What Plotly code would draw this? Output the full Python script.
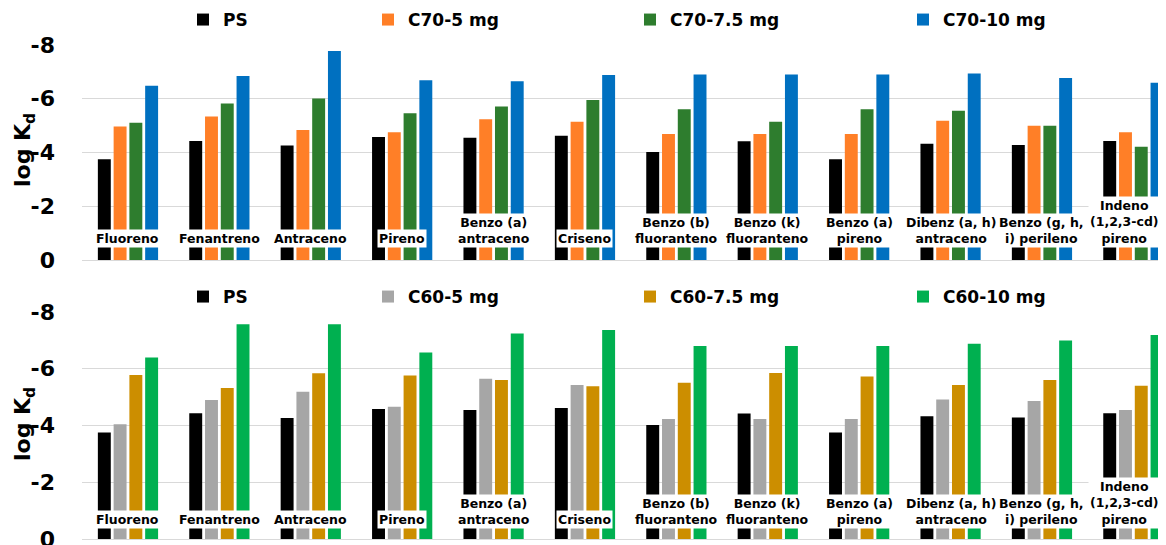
"""log Kd of PAHs on PS and PS + fullerene (C70 / C60) sorbents."""
import plotly.graph_objects as go

# the page keeps an 8px body margin, so the figure is drawn 8px in from the
# window corner; positions below are measured on the window and shifted
PAGE_W, PAGE_H, OFF = 1166, 545, 8
W, H = PAGE_W - OFF, PAGE_H - OFF


def px_x(p):
    return (p - OFF) / W


def px_y(p):
    return 1 - (p - OFF) / H


categories = [
    "Fluoreno", "Fenantreno", "Antraceno", "Pireno", "Benzo (a) antraceno",
    "Criseno", "Benzo (b) fluoranteno", "Benzo (k) fluoranteno",
    "Benzo (a) pireno", "Dibenz (a, h) antraceno", "Benzo (g, h, i) perileno",
    "Indeno (1,2,3-cd) pireno",
]
category_labels = [
    "Fluoreno", "Fenantreno", "Antraceno", "Pireno", "Benzo (a)<br>antraceno",
    "Criseno", "Benzo (b)<br>fluoranteno", "Benzo (k)<br>fluoranteno",
    "Benzo (a)<br>pireno", "Dibenz (a, h)<br>antraceno", "Benzo (g, h,<br>i) perileno",
    "Indeno<br>(1,2,3-cd)<br>pireno",
]

ps = [-3.75, -4.43, -4.26, -4.58, -4.55, -4.62, -4.02, -4.42, -3.75, -4.33, -4.28, -4.43]

c70_5 = [-4.97, -5.34, -4.84, -4.75, -5.24, -5.14, -4.69, -4.69, -4.69, -5.18, -5.00, -4.75]
c70_75 = [-5.11, -5.82, -6.01, -5.46, -5.71, -5.95, -5.61, -5.14, -5.61, -5.55, -5.00, -4.21]
c70_10 = [-6.48, -6.85, -7.78, -6.69, -6.65, -6.88, -6.90, -6.90, -6.90, -6.94, -6.77, -6.60]

c60_5 = [-4.04, -4.90, -5.19, -4.66, -5.65, -5.43, -4.23, -4.23, -4.23, -4.92, -4.86, -4.55]
c60_75 = [-5.78, -5.32, -5.84, -5.76, -5.60, -5.38, -5.51, -5.85, -5.73, -5.43, -5.60, -5.40]
c60_10 = [-6.40, -7.57, -7.57, -6.57, -7.24, -7.37, -6.80, -6.80, -6.80, -6.88, -7.00, -7.19]

tick_vals = [0, -2, -4, -6, -8]
tick_text = ["0", "-2", "-4", "-6", "-8"]

FONT = "DejaVu Sans"
GRID = "#d9d9d9"

top_series = [
    ("PS", ps, "#000000"),
    ("C70-5 mg", c70_5, "#ff7f27"),
    ("C70-7.5 mg", c70_75, "#2e7d2e"),
    ("C70-10 mg", c70_10, "#0070c0"),
]
bottom_series = [
    ("PS", ps, "#000000"),
    ("C60-5 mg", c60_5, "#a6a6a6"),
    ("C60-7.5 mg", c60_75, "#cc8e00"),
    ("C60-10 mg", c60_10, "#00b050"),
]

# window x of each legend symbol, same in both panels
legend_px = [203, 388, 650, 923]

fig = go.Figure()

legends = {}
n = 1
for series, ax, ly in [(top_series, "", 20), (bottom_series, "2", 297)]:
    for (name, vals, color), lx in zip(series, legend_px):
        key = "legend" if n == 1 else f"legend{n}"
        fig.add_trace(go.Bar(
            x=categories, y=vals, name=name,
            marker=dict(color=color, line=dict(width=0)),
            xaxis="x" + ax, yaxis="y" + ax,
            legend=key,
        ))
        legends[key] = dict(
            x=px_x(lx - 20), xanchor="left",
            y=px_y(ly), yanchor="middle",
            orientation="h", bgcolor="rgba(0,0,0,0)",
            font=dict(family=FONT, size=17, color="#000", weight="bold"),
            itemwidth=30,
        )
        n += 1

# category labels sitting over the bars, on white boxes
# (the last one is nudged left so it stays inside the window)
annotations = []
for ax, shift in [("", 12), ("2", 10)]:
    for i, (cat, lab) in enumerate(zip(categories, category_labels)):
        annotations.append(dict(
            x=cat, y=0, xref="x" + ax, yref="y" + ax,
            text=lab, showarrow=False, xanchor="center",
            yanchor="bottom", yshift=shift,
            xshift=-9 if i == len(categories) - 1 else 0,
            bgcolor="white", borderpad=1, align="center",
            font=dict(family=FONT, size=12.5, color="#000", weight="bold"),
        ))

# y axis titles
for yc in [150, 424]:
    annotations.append(dict(
        x=px_x(24), y=px_y(yc), xref="paper", yref="paper",
        xanchor="center", yanchor="middle",
        text="log K<sub>d</sub>", textangle=-90, showarrow=False,
        font=dict(family=FONT, size=22, color="#000", weight="bold"),
    ))

x_common = dict(
    domain=[px_x(82), 1], range=[-0.503, 11.357], showticklabels=False,
    showgrid=False, zeroline=False, showline=False, ticks="",
    automargin=False,
)
y_common = dict(
    range=[0, -8], tickvals=tick_vals, ticktext=tick_text,
    showgrid=True, gridcolor=GRID, gridwidth=1,
    zeroline=True, zerolinecolor=GRID, zerolinewidth=1,
    showline=False, ticks="", ticklabelstandoff=26, automargin=False,
    ticklabeloverflow="allow",
    tickfont=dict(family=FONT, size=22, color="#000", weight="bold"),
)

fig.update_layout(
    width=W, height=H,
    template="none",
    margin=dict(l=0, r=0, t=0, b=0, autoexpand=False),
    paper_bgcolor="white", plot_bgcolor="white",
    barmode="group", bargap=0.31, bargroupgap=0.18,
    xaxis=dict(**x_common, anchor="y"),
    xaxis2=dict(**x_common, anchor="y2"),
    yaxis=dict(**y_common, domain=[px_y(260), px_y(45)], anchor="x"),
    yaxis2=dict(**y_common, domain=[px_y(539), px_y(312)], anchor="x2"),
    annotations=annotations,
    showlegend=True,
    **legends,
)

fig.write_html("out.html")
